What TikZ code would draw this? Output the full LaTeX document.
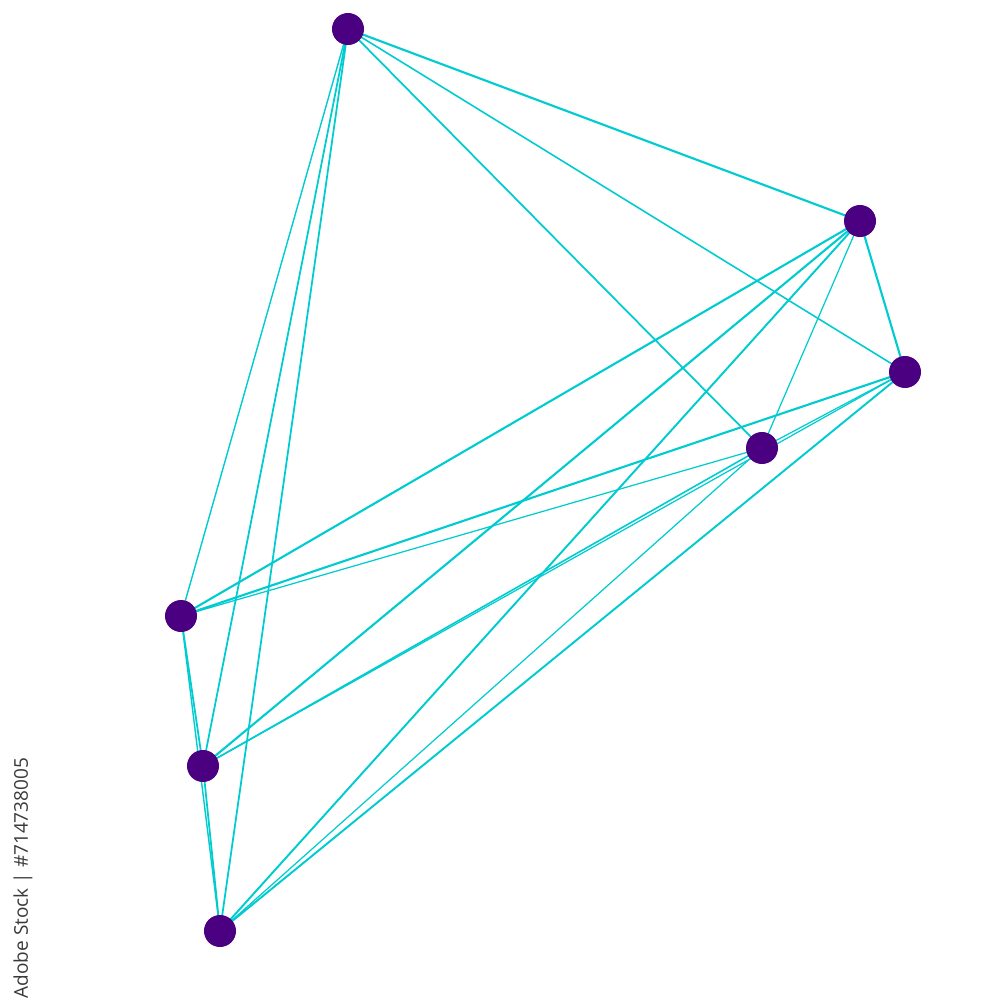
\documentclass[tikz,border=0pt]{standalone}
\usepackage{fontspec}
\newfontfamily\wmfont{Open Sans}
\usetikzlibrary{backgrounds}
\definecolor{edgecyan}{RGB}{0,204,208}
\definecolor{nodepurple}{RGB}{75,0,130}
\definecolor{wmgray}{RGB}{58,58,58}
\tikzset{
  vert/.style={circle,fill=nodepurple,draw=none,minimum size=0.32cm,inner sep=0pt},
  edge/.style={draw=edgecyan,line width=#1},
  edge/.default=0.5pt,
  wmark/.style={rotate=90,font=\wmfont\fontsize{5.4}{6}\selectfont,text=wmgray,inner sep=0pt}
}
\begin{document}
\begin{tikzpicture}[x=0.01cm,y=-0.01cm]
\useasboundingbox (0,0) rectangle (1000,1000);
\node[vert] (A) at (348,29) {};
\node[vert] (B) at (860,221) {};
\node[vert] (C) at (905,372) {};
\node[vert] (D) at (762,448) {};
\node[vert] (E) at (181,616) {};
\node[vert] (F) at (203,766) {};
\node[vert] (G) at (220,931) {};
\begin{scope}[on background layer]
\draw[edge=0.6pt] (A.center) -- (B.center);
\draw[edge=0.45pt] (A.center) -- (C.center);
\draw[edge=0.5pt] (A.center) -- (D.center);
\draw[edge=0.4pt] (A.center) -- (E.center);
\draw[edge=0.5pt] (A.center) -- (F.center);
\draw[edge=0.5pt] (A.center) -- (G.center);
\draw[edge=0.6pt] (B.center) -- (C.center);
\draw[edge=0.35pt] (B.center) -- (D.center);
\draw[edge=0.6pt] (B.center) -- (E.center);
\draw[edge=0.6pt] (B.center) -- (F.center);
\draw[edge=0.55pt] (B.center) -- (G.center);
\draw[edge=0.35pt] (C.center) -- (D.center);
\draw[edge=0.6pt] (C.center) -- (E.center);
\draw[edge=0.35pt] (C.center) -- (F.center);
\draw[edge=0.55pt] (C.center) -- (G.center);
\draw[edge=0.35pt] (D.center) -- (E.center);
\draw[edge=0.45pt] (D.center) -- (F.center);
\draw[edge=0.35pt] (D.center) -- (G.center);
\draw[edge=0.5pt] (E.center) -- (F.center);
\draw[edge=0.4pt] (E.center) -- (G.center);
\draw[edge=0.5pt] (F.center) -- (G.center);
\end{scope}
\node[wmark] (wm) at (23,878) {Adobe Stock | \#714738005};
\end{tikzpicture}
\end{document}
